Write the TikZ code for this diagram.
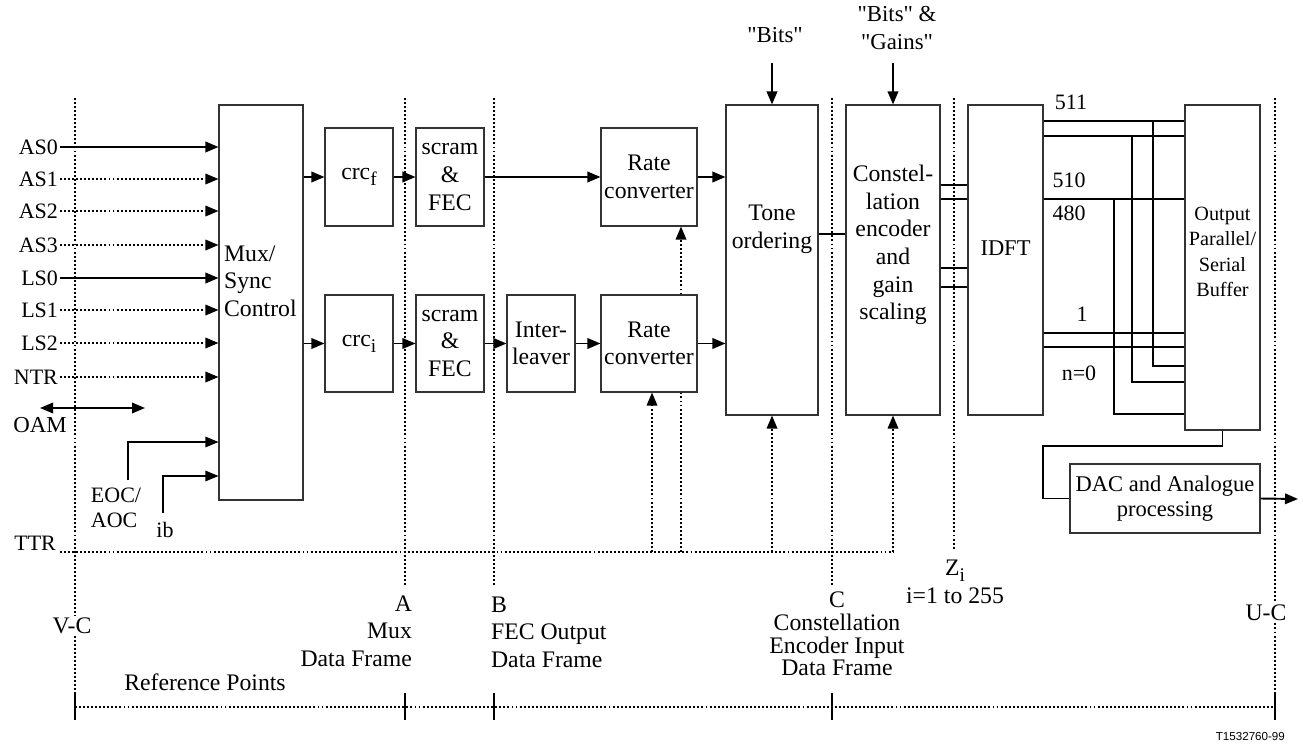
\documentclass[tikz,border=0pt]{standalone}
\usepackage{fontspec}
\setmainfont{Liberation Serif}[Ligatures=TeXOff]
\newfontfamily\tagfont{Liberation Sans}
\usetikzlibrary{arrows.meta}
\newcommand{\lowsub}[1]{\raisebox{-0.55ex}{\fontsize{11}{11}\selectfont #1}}

\begin{document}
\begin{tikzpicture}[
  x=0.2mm, y=-0.2mm,
  >={Triangle[length=2.6mm, width=2.1mm]},
  every node/.style={font=\fontsize{13.5}{15.7}\selectfont, inner sep=1pt},
  sml/.style={font=\fontsize{12.5}{14.5}\selectfont},
  blk/.style={draw=black!80, line width=0.6pt, inner sep=0pt, align=center},
  sz/.style 2 args={minimum width=#1*0.2mm, minimum height=#2*0.2mm},
  sig/.style={line width=1.1pt},
  dots/.style={line width=1pt, dash pattern=on 1.1pt off 1.2pt},
  thinln/.style={line width=0.6pt},
  tick/.style={line width=1.2pt},
]

% Frame
\useasboundingbox (0,0) rectangle (1303,747);

% Reference point lines
\draw[dots] (75,98) -- (75,707);
\draw[dots] (405,98) -- (405,585);
\draw[dots] (494,98) -- (494,585);
\draw[dots] (832,98) -- (832,585);
\draw[dots] (954,98) -- (954,550);
\draw[dots] (1275,98) -- (1275,707);
\draw[dots] (75,707) -- (1275,707);
\draw[tick] (75,693) -- (75,720);
\draw[tick] (405,693) -- (405,720);
\draw[tick] (494,693) -- (494,720);
\draw[tick] (832,693) -- (832,720);
\draw[tick] (1275,693) -- (1275,720);

% Blocks
\node[blk, sz={84}{395}] (mux) at (261,302.5) {};
\node[anchor=west, align=left] (muxtxt) at (222,281) {Mux/\\Sync\\Control};
\node[blk, sz={68}{98}] (crcf) at (359,177) {crc\lowsub{f}};
\node[blk, sz={68}{97}] (crci) at (359,343.5) {crc\lowsub{i}};
\node[blk, sz={68}{98}] (scrf) at (450,177) {scram\\\&\\FEC};
\node[blk, sz={68}{97}] (scri) at (450,343.5) {scram\\\&\\FEC};
\node[blk, sz={68}{97}] (intl) at (541,343.5) {Inter-\\leaver};
\node[blk, sz={96}{98}] (ratef) at (649,177) {Rate\\converter};
\node[blk, sz={96}{97}] (ratei) at (649,343.5) {Rate\\converter};
\node[blk, sz={92}{310}] (tone) at (772,260) {};
\node[align=center] (tonetxt) at (772,229) {Tone\\ordering};
\node[blk, sz={94}{310}] (const) at (893,260) {};
\node[align=center] (consttxt) at (893,245) {Constel-\\lation\\encoder\\and\\gain\\scaling};
\node[blk, sz={75}{310}] (idft) at (1005.5,260) {};
\node[font=\fontsize{12.8}{14.5}\selectfont] (idfttxt) at (1005.5,248) {IDFT};
\node[blk, sz={75}{325}] (buf) at (1222.5,267.5) {};
\node[align=center, font=\fontsize{11.5}{14.5}\selectfont] (buftxt) at (1222.5,252) {Output\\Parallel/\\Serial\\Buffer};
\node[blk, sz={190}{69}, font=\fontsize{12.8}{14.2}\selectfont] (dac) at (1165,498.5) {DAC and Analogue\\processing};

% Inputs
\node[sml, anchor=east] (as0) at (60,147) {AS0};
\node[sml, anchor=east] (as1) at (60,179) {AS1};
\node[sml, anchor=east] (as2) at (60,211) {AS2};
\node[sml, anchor=east] (as3) at (60,245) {AS3};
\node[sml, anchor=east] (ls0) at (60,278) {LS0};
\node[sml, anchor=east] (ls1) at (60,310) {LS1};
\node[sml, anchor=east] (ls2) at (60,343) {LS2};
\node[sml, anchor=east] (ntr) at (60,377) {NTR};
\draw[sig,->] (as0) -- (as0 -| mux.west);
\draw[dots,->] (as1) -- (as1 -| mux.west);
\draw[dots,->] (as2) -- (as2 -| mux.west);
\draw[dots,->] (as3) -- (as3 -| mux.west);
\draw[sig,->] (ls0) -- (ls0 -| mux.west);
\draw[dots,->] (ls1) -- (ls1 -| mux.west);
\draw[dots,->] (ls2) -- (ls2 -| mux.west);
\draw[dots,->] (ntr) -- (ntr -| mux.west);

% OAM, EOC/AOC, ib
\coordinate (oamL) at (40,408);
\coordinate (oamR) at (145,408);
\draw[sig,<->] (oamL) -- (oamR);
\node[font=\fontsize{13}{15}\selectfont] (oam) at (40,425) {OAM};
\node[sml, align=left] (eoc) at (116,508) {EOC/\\AOC};
\coordinate (eocB) at (128,480);
\draw[thinln,->] (eocB) |- (mux.west |- 0,442);
\node[sml] (ib) at (165,530) {ib};
\coordinate (ibB) at (163,513);
\draw[thinln,->] (ibB) |- (mux.west |- 0,476);

% Data path
\draw[sig,->] (mux.east |- crcf) -- (crcf);
\draw[sig,->] (mux.east |- crci) -- (crci);
\draw[sig,->] (crcf) -- (scrf);
\draw[sig,->] (crci) -- (scri);
\draw[sig,->] (scrf) -- (ratef);
\draw[sig,->] (scri) -- (intl);
\draw[sig,->] (intl) -- (ratei);
\draw[sig,->] (ratef) -- (ratef -| tone.west);
\draw[sig,->] (ratei) -- (ratei -| tone.west);
\draw[sig] (tone.east |- 0,234) -- (const.west |- 0,234);
\draw[sig] (const.east |- 0,185) -- (idft.west |- 0,185);
\draw[sig] (const.east |- 0,199) -- (idft.west |- 0,199);
\draw[sig] (const.east |- 0,268) -- (idft.west |- 0,268);
\draw[sig] (const.east |- 0,287) -- (idft.west |- 0,287);

% Bits and gains
\node[font=\fontsize{13}{15.5}\selectfont] (bits) at (775,35) {"Bits"};
\node[font=\fontsize{13}{15.5}\selectfont, align=center] (bitsg) at (897,28) {"Bits" \&\\"Gains"};
\coordinate (bitsin) at (772,63);
\coordinate (gainsin) at (893,63);
\draw[sig,->] (bitsin) -- (tone.north);
\draw[sig,->] (gainsin) -- (const.north);

% TTR timing
\node[sml, anchor=east] (ttr) at (58,543) {TTR};
\coordinate (ttrS) at (60,552);
\coordinate (ttrA) at (652,552);
\coordinate (ttrB) at (681,552);
\coordinate (ttrC) at (772,552);
\coordinate (ttrD) at (893,552);
\draw[dots] (ttrS) -- (ttrD);
\draw[dots,->] (ttrA) -- (ttrA |- ratei.south);
\draw[dots] (ttrB) -- (ttrB |- ratei.south);
\draw[dots,->] (ttrB |- ratei.north) -- (ttrB |- ratef.south);
\draw[dots,->] (ttrC) -- (tone.south);
\draw[dots,->] (ttrD) -- (const.south);

% IDFT outputs
\draw[sig] (idft.east |- 0,121) -- (buf.west |- 0,121);
\draw[sig] (idft.east |- 0,136) -- (buf.west |- 0,136);
\draw[sig] (idft.east |- 0,199) -- (buf.west |- 0,199);
\draw[sig] (idft.east |- 0,333) -- (buf.west |- 0,333);
\draw[sig] (idft.east |- 0,347) -- (buf.west |- 0,347);
\coordinate (tapA) at (1153,121);
\coordinate (tapB) at (1132,136);
\coordinate (tapC) at (1114,199);
\draw[thinln] (tapA) |- (buf.west |- 0,366);
\draw[thinln] (tapB) |- (buf.west |- 0,382);
\draw[thinln] (tapC) |- (buf.west |- 0,414);
\node[sml] (n511) at (1071,102) {511};
\node[sml] (n510) at (1069,180) {510};
\node[sml] (n480) at (1069,213) {480};
\node[sml] (n1) at (1082,314) {1};
\node[sml] (n0) at (1079,373) {n=0};

% DAC
\coordinate (dacturn) at (1043,446);
\coordinate (out) at (1298,499);
\draw[thinln] (buf.south) |- (dacturn) |- (dac.west);
\draw[sig,->] (dac.east) -- (out);

% Reference point labels
\node[fill=white] (vc) at (72,626) {V-C};
\node[fill=white] (uc) at (1266,613) {U-C};
\node[anchor=east, align=right] (refA) at (414,631) {A\\Mux\\Data Frame};
\node[anchor=west, align=left] (refB) at (489,632) {B\\FEC Output\\Data Frame};
\node[align=center, font=\fontsize{13.5}{12.9}\selectfont] (refC) at (837,634) {C\\Constellation\\Encoder Input\\Data Frame};
\node[align=center] (refZ) at (955,582) {Z\lowsub{i}\\i=1 to 255};
\node (refpts) at (205,682) {Reference Points};
\node[anchor=east, font=\tagfont\fontsize{6.6}{8}\selectfont] (tag) at (1287,736) {T1532760-99};

\end{tikzpicture}
\end{document}
